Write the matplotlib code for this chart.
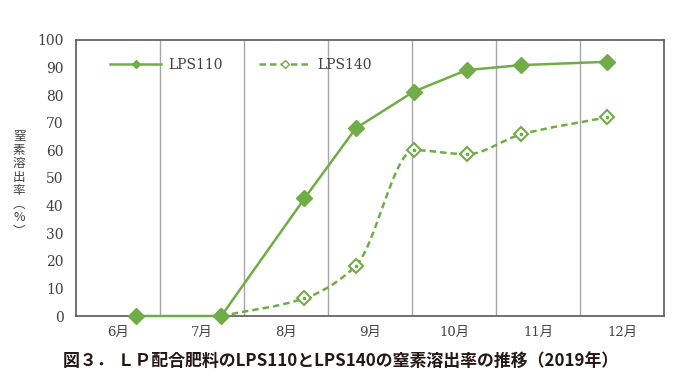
import numpy as np
import matplotlib.pyplot as plt
from matplotlib.path import Path
from matplotlib.patches import PathPatch
from matplotlib.lines import Line2D

# months on the x axis, sample positions in months counted from 1 June
months = ["6月", "7月", "8月", "9月", "10月", "11月", "12月"]
x110 = [0.71, 1.73, 2.72, 3.33, 4.02, 4.65, 5.30, 6.32]
lps110 = [0, 0, 42.6, 68.0, 81.3, 89.1, 90.9, 92.1]
x140 = [1.73, 2.72, 3.33, 4.02, 4.65, 5.30, 6.32]
lps140 = [0, 6.4, 18.1, 60.1, 58.6, 65.8, 72.0]

green = "#70AD47"
txt = "#404040"
serif = ["DejaVu Serif", "Noto Sans CJK JP"]


def smooth_path(x, y):
    # monotone (pchip-like) bezier through the points, no overshoot
    x = np.asarray(x, float)
    y = np.asarray(y, float)
    h = np.diff(x)
    d = np.diff(y) / h
    m = np.empty_like(y)
    m[0], m[-1] = d[0], d[-1]
    for k in range(1, len(y) - 1):
        if d[k - 1] * d[k] <= 0:
            m[k] = 0.0
        else:
            w1 = 2 * h[k] + h[k - 1]
            w2 = h[k] + 2 * h[k - 1]
            m[k] = (w1 + w2) / (w1 / d[k - 1] + w2 / d[k])
    verts = [(x[0], y[0])]
    codes = [Path.MOVETO]
    for i in range(len(x) - 1):
        t = h[i] / 3
        verts += [(x[i] + t, y[i] + t * m[i]),
                  (x[i + 1] - t, y[i + 1] - t * m[i + 1]),
                  (x[i + 1], y[i + 1])]
        codes += [Path.CURVE4] * 3
    return Path(verts, codes)


fig = plt.figure(figsize=(7, 3.81), dpi=100)
ax = fig.add_axes([76 / 700, 65 / 381, 588 / 700, 276 / 381])

# LPS140 (dashed, smoothed, hollow markers)
ax.add_patch(PathPatch(smooth_path(x140, lps140), fill=False, ec=green,
                       lw=1.8, ls=(0, (2.6, 1.6)), zorder=3))
ax.plot(x140, lps140, ls="none", marker="D", ms=7, mfc="white", mec=green,
        mew=1.5, zorder=4)
ax.plot(x140, lps140, ls="none", marker="o", ms=1.6, color=green, zorder=5)

# LPS110 (solid, filled markers)
ax.plot(x110, lps110, color=green, lw=1.8, marker="D", ms=8, mew=1,
        zorder=6, clip_on=False)

ax.set_xlim(0, len(months))
ax.set_ylim(0, 100)
ax.set_yticks(np.arange(0, 101, 10))
ax.set_xticks(np.arange(1, len(months)))
ax.set_xticklabels([])
ax.set_xticks(np.arange(len(months)) + 0.5, minor=True)
ax.set_xticklabels(months, minor=True, family=serif, fontsize=9.5, color=txt)
ax.tick_params(axis="x", which="both", length=0, pad=7)
ax.tick_params(axis="y", length=0, pad=9)
for lab in ax.get_yticklabels():
    lab.set_family("DejaVu Serif")
    lab.set_fontsize(10)
    lab.set_color(txt)
ax.grid(axis="x", which="major", color="#a6a6a6", lw=1)
ax.set_axisbelow(True)
for s in ax.spines.values():
    s.set_color("#595959")
    s.set_linewidth(1.2)

handles = [
    Line2D([], [], color=green, lw=1.8, marker="D", ms=4.5),
    Line2D([], [], color=green, lw=1.8, ls=(0, (2.6, 1.6)), marker="D", ms=4,
           mfc="white", mec=green, mew=1),
]
ax.legend(handles, ["LPS110", "LPS140"], ncol=2, frameon=False,
          loc="center left", bbox_to_anchor=(0.058, 0.909), borderpad=0,
          borderaxespad=0, handlelength=3.7, handletextpad=0.5,
          columnspacing=2.6, prop={"family": "DejaVu Serif", "size": 10},
          labelcolor=txt)

fig.text(19 / 700, 0.517, "\n".join("窒素溶出率") + "\n︵\n%\n︶",
         family=["Noto Sans CJK JP", "DejaVu Sans"], fontsize=9, color=txt,
         ha="center", va="center", linespacing=1.05)

fig.text(63 / 700, 0.052, "図３． ＬＰ配合肥料のLPS110とLPS140の窒素溶出率の推移（2019年）",
         family=["Noto Sans CJK JP", "DejaVu Sans"], fontsize=12.2,
         fontweight="bold", color="#231815", ha="left", va="center")

fig.savefig("out.png", dpi=100, facecolor="white")
